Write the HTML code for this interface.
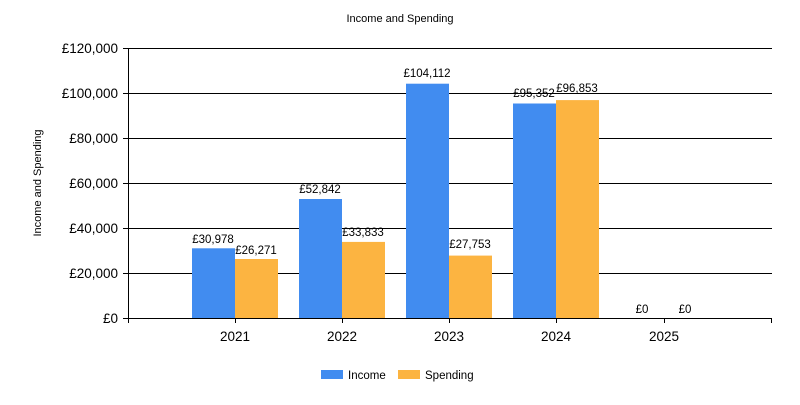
<!DOCTYPE html>
<html><head><meta charset="utf-8"><style>body{margin:0;background:#fff}</style></head><body>
<svg width="800" height="400" xmlns="http://www.w3.org/2000/svg" font-family="Liberation Sans, sans-serif">
<rect width="800" height="400" fill="#fff"/>
<text x="400" y="22" font-size="11" text-anchor="middle">Income and Spending</text>
<text transform="translate(41,183) rotate(-90)" font-size="11" text-anchor="middle">Income and Spending</text>
<g stroke="#000" stroke-width="1">
<line x1="123" y1="48.5" x2="772" y2="48.5"/>
<line x1="123" y1="93.5" x2="772" y2="93.5"/>
<line x1="123" y1="138.5" x2="772" y2="138.5"/>
<line x1="123" y1="183.5" x2="772" y2="183.5"/>
<line x1="123" y1="228.5" x2="772" y2="228.5"/>
<line x1="123" y1="273.5" x2="772" y2="273.5"/>
</g>
<g font-size="13.5" text-anchor="end">
<text x="118" y="53">£120,000</text>
<text x="118" y="98">£100,000</text>
<text x="118" y="143">£80,000</text>
<text x="118" y="188">£60,000</text>
<text x="118" y="233">£40,000</text>
<text x="118" y="278">£20,000</text>
<text x="118" y="323">£0</text>
</g>
<g fill="#418CF0">
<rect x="192" y="248.3" width="43" height="69.7"/>
<rect x="299" y="199" width="43" height="119"/>
<rect x="406" y="83.7" width="43" height="234.3"/>
<rect x="513" y="103.5" width="43" height="214.5"/>
</g>
<g fill="#FCB441">
<rect x="235" y="259" width="43" height="59"/>
<rect x="342" y="241.9" width="43" height="76.1"/>
<rect x="449" y="255.6" width="43" height="62.4"/>
<rect x="556" y="100.1" width="43" height="217.9"/>
</g>
<g stroke="#000" stroke-width="1">
<line x1="128.5" y1="48" x2="128.5" y2="323"/>
<line x1="123" y1="318.5" x2="772" y2="318.5"/>
<line x1="235.5" y1="318" x2="235.5" y2="323"/>
<line x1="342.5" y1="318" x2="342.5" y2="323"/>
<line x1="449.5" y1="318" x2="449.5" y2="323"/>
<line x1="556.5" y1="318" x2="556.5" y2="323"/>
<line x1="664.5" y1="318" x2="664.5" y2="323"/>
<line x1="771.5" y1="318" x2="771.5" y2="323"/>
</g>
<g font-size="11.5" text-anchor="middle">
<text x="213" y="243">£30,978</text>
<text x="256" y="254">£26,271</text>
<text x="320" y="193">£52,842</text>
<text x="363" y="236">£33,833</text>
<text x="427" y="77">£104,112</text>
<text x="534" y="97">£95,352</text>
<text x="577" y="92">£96,853</text>
<text x="470" y="248">£27,753</text>
<text x="642" y="313">£0</text>
<text x="685" y="313">£0</text>
</g>
<g font-size="13.5" text-anchor="middle">
<text x="235" y="341">2021</text>
<text x="342" y="341">2022</text>
<text x="449" y="341">2023</text>
<text x="556" y="341">2024</text>
<text x="664" y="341">2025</text>
</g>
<rect x="321" y="370" width="22" height="9" fill="#418CF0"/>
<text x="348" y="379" font-size="11.5">Income</text>
<rect x="398" y="370" width="22" height="9" fill="#FCB441"/>
<text x="425" y="379" font-size="11.5">Spending</text>
</svg>
</body></html>
